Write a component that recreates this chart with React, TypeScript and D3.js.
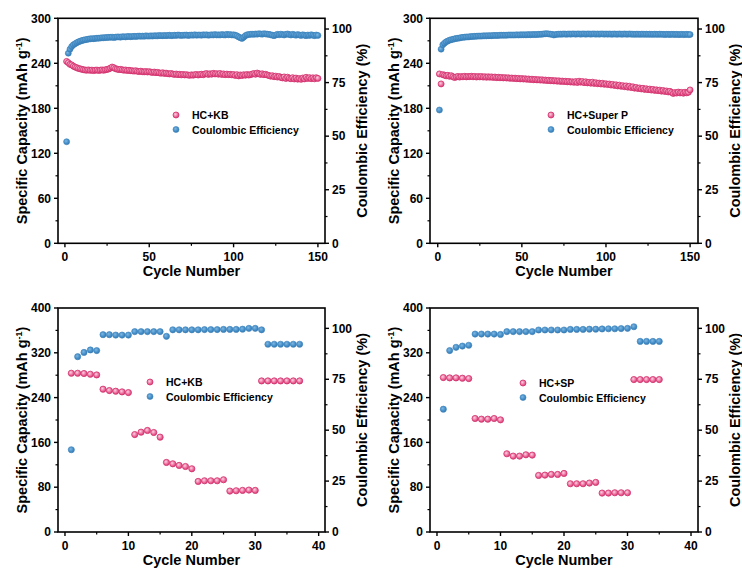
import React from 'react';
import * as d3 from 'd3';

// ---- long cycling, 150 cycles ----
const kbCapacity = [
  242.5, 240.8, 238.6, 237.9, 236.2, 235.0, 234.1, 233.2, 232.6, 232.0,
  231.5, 231.0, 230.8, 231.2, 230.6, 230.9, 230.3, 230.8, 231.0, 230.5,
  230.9, 231.2, 230.7, 231.4, 231.8, 232.5, 233.6, 235.0, 234.1, 232.8,
  232.2, 231.6, 231.9, 231.3, 230.8, 231.1, 230.4, 230.7, 230.2, 230.0,
  229.6, 230.1, 229.3, 229.0, 229.5, 228.8, 228.6, 229.0, 228.4, 228.9,
  228.2, 227.8, 228.3, 227.5, 227.9, 227.2, 226.8, 227.4, 226.5, 226.9,
  226.2, 225.8, 226.4, 225.6, 225.2, 225.7, 224.9, 225.3, 224.6, 225.1,
  224.5, 224.9, 224.3, 224.0, 224.6, 224.2, 224.8, 225.1, 224.4, 225.0,
  225.4, 224.7, 225.8, 226.3, 225.2, 226.0, 225.5, 226.6, 225.8, 226.2,
  225.5, 226.4, 225.1, 225.9, 224.8, 225.6, 224.9, 225.3, 224.6, 225.0,
  223.8, 224.9, 223.2, 224.5, 223.7, 224.8, 224.1, 225.0, 224.3, 224.9,
  225.6, 226.3, 225.4, 227.0, 226.1, 225.2, 226.0, 224.8, 225.3, 224.4,
  223.6, 222.8, 223.5, 222.1, 222.9, 221.6, 222.4, 221.2, 220.5, 221.8,
  219.8, 221.5, 220.2, 219.4, 220.8, 219.1, 220.3, 218.9, 219.6, 218.6,
  220.4, 219.2, 221.3, 219.8, 220.9, 219.5, 220.6, 219.3, 220.8, 219.9,
];
const kbEfficiency = [
  47.4, 88.7, 90.6, 91.8, 92.6, 93.1, 93.6, 94.0, 94.3, 94.6,
  94.8, 95.0, 95.1, 95.3, 95.4, 95.5, 95.5, 95.6, 95.7, 95.7,
  95.8, 95.9, 95.9, 96.0, 96.0, 96.1, 96.1, 96.2, 96.0, 96.2,
  96.3, 96.3, 96.2, 96.4, 96.4, 96.3, 96.5, 96.5, 96.4, 96.5,
  96.6, 96.5, 96.6, 96.7, 96.6, 96.7, 96.6, 96.8, 96.7, 96.7,
  96.8, 96.7, 96.9, 96.8, 96.8, 97.0, 96.9, 96.9, 97.0, 96.9,
  97.0, 97.1, 96.9, 97.0, 97.1, 97.0, 97.2, 97.1, 97.0, 97.1,
  97.1, 97.2, 97.0, 97.1, 97.2, 97.1, 97.3, 97.1, 97.2, 97.2,
  97.1, 97.3, 97.2, 97.3, 97.1, 97.2, 97.3, 97.2, 97.4, 97.2,
  97.3, 97.2, 97.4, 97.3, 97.2, 97.5, 97.3, 97.4, 97.2, 97.3,
  97.1, 96.8, 96.3, 95.9, 95.6, 96.2, 96.9, 97.3, 97.4, 97.5,
  97.6, 97.5, 97.7, 97.6, 97.8, 97.7, 97.6, 97.8, 97.7, 97.6,
  97.5, 97.3, 97.1, 96.9, 97.2, 97.5, 97.3, 97.6, 97.4, 97.2,
  97.5, 97.7, 97.4, 97.2, 97.5, 97.3, 97.1, 97.4, 97.2, 97.0,
  97.3, 97.1, 96.9, 97.2, 97.0, 97.3, 97.1, 96.9, 97.2, 97.0,
];
const spCapacity = [
  225.8, 212.5, 224.9, 224.1, 223.3, 224.0, 222.6, 223.5, 222.1, 221.0,
  221.8, 222.5, 221.6, 222.3, 222.0, 222.6, 221.9, 222.4, 222.2, 222.7,
  222.0, 222.5, 221.7, 222.3, 221.9, 222.4, 221.6, 222.1, 221.4, 222.0,
  221.5, 221.9, 221.2, 221.7, 220.9, 221.4, 220.7, 221.1, 220.5, 220.9,
  220.3, 220.7, 220.0, 220.4, 219.8, 220.2, 219.5, 219.9, 219.2, 219.6,
  219.0, 219.4, 218.7, 219.1, 218.4, 218.8, 218.1, 218.5, 217.9, 218.2,
  217.6, 218.0, 217.3, 217.7, 217.0, 217.4, 216.8, 217.1, 216.5, 216.9,
  216.2, 216.6, 215.9, 216.3, 215.7, 216.0, 215.3, 215.8, 215.0, 215.4,
  214.7, 215.6, 214.4, 216.1, 214.9, 215.7, 214.2, 215.3, 213.9, 214.6,
  213.5, 214.8, 213.2, 214.1, 212.8, 213.6, 212.4, 213.3, 212.0, 212.7,
  211.6, 212.4, 211.0, 211.9, 210.5, 211.3, 209.8, 210.9, 209.3, 210.2,
  208.8, 209.9, 208.2, 209.4, 207.6, 208.6, 206.9, 207.8, 206.3, 207.1,
  205.8, 206.7, 205.2, 206.1, 204.8, 205.6, 204.3, 205.2, 203.9, 204.6,
  203.5, 204.2, 202.9, 203.7, 202.4, 203.1, 201.8, 202.6, 201.2, 199.8,
  201.0, 200.3, 201.6, 200.5, 201.2, 200.1, 201.4, 200.6, 201.3, 204.5,
];
const spEfficiency = [
  62.2, 90.6, 92.6, 93.4, 94.0, 94.4, 94.8, 95.0, 95.2, 95.4,
  95.6, 95.7, 95.8, 96.0, 96.1, 96.2, 96.3, 96.3, 96.4, 96.5,
  96.5, 96.6, 96.6, 96.7, 96.7, 96.7, 96.8, 96.8, 96.8, 96.9,
  96.9, 96.9, 97.0, 97.0, 97.0, 97.0, 97.1, 97.1, 97.1, 97.1,
  97.1, 97.2, 97.2, 97.2, 97.2, 97.2, 97.3, 97.2, 97.3, 97.3,
  97.3, 97.3, 97.3, 97.4, 97.3, 97.4, 97.4, 97.4, 97.4, 97.5,
  97.5, 97.6, 97.7, 97.8, 97.8, 97.7, 97.6, 97.5, 97.2, 97.4,
  97.5, 97.6, 97.6, 97.6, 97.7, 97.6, 97.6, 97.7, 97.6, 97.7,
  97.7, 97.6, 97.7, 97.7, 97.6, 97.7, 97.7, 97.6, 97.7, 97.7,
  97.6, 97.7, 97.7, 97.6, 97.7, 97.6, 97.7, 97.7, 97.6, 97.7,
  97.6, 97.7, 97.6, 97.6, 97.7, 97.6, 97.6, 97.7, 97.6, 97.6,
  97.7, 97.6, 97.6, 97.7, 97.6, 97.6, 97.5, 97.6, 97.6, 97.5,
  97.6, 97.6, 97.5, 97.6, 97.5, 97.6, 97.5, 97.5, 97.6, 97.5,
  97.5, 97.6, 97.5, 97.5, 97.4, 97.5, 97.5, 97.4, 97.5, 97.5,
  97.4, 97.5, 97.4, 97.4, 97.5, 97.4, 97.4, 97.5, 97.4, 97.4,
];

// ---- rate tests ----
const kbRateCapacity = [
  283.5, 283.5, 283.0, 281.7, 280.5,
  255.0, 252.6, 251.4, 250.2, 249.0,
  174.0, 178.3, 181.3, 177.7, 169.4,
  124.2, 121.8, 118.9, 117.0, 112.9,
  90.3, 91.5, 91.5, 91.5, 93.3,
  73.1, 73.7, 74.3, 74.9, 74.3,
  269.8, 269.8, 269.8, 269.8, 269.8, 269.8, 269.8,
];
const kbRateEfficiency = [
  40.4, 86.1, 88.2, 89.4, 89.1,
  96.9, 96.9, 96.7, 96.7, 96.7,
  98.4, 98.4, 98.4, 98.4, 98.4,
  96.1, 99.3, 99.3, 99.3, 99.3,
  99.3, 99.4, 99.4, 99.4, 99.5,
  99.5, 99.5, 99.6, 100.0, 100.0,
  99.3, 92.2, 92.2, 92.2, 92.2, 92.2, 92.2,
];
const spRateCapacity = [
  275.8, 275.2, 275.2, 274.6, 274.0,
  202.7, 201.5, 201.5, 202.7, 200.3,
  139.7, 135.5, 135.5, 137.9, 137.3,
  101.0, 101.6, 102.8, 102.8, 104.6,
  86.2, 86.2, 86.2, 87.4, 88.6,
  69.5, 69.5, 70.1, 70.1, 70.1,
  272.2, 272.2, 272.2, 272.2, 272.2,
];
const spRateEfficiency = [
  60.3, 89.1, 90.7, 91.3, 91.7,
  97.2, 97.2, 97.2, 97.2, 97.0,
  98.4, 98.4, 98.4, 98.4, 98.4,
  99.2, 99.2, 99.2, 99.2, 99.2,
  99.5, 99.5, 99.5, 99.6, 99.6,
  99.7, 99.8, 99.8, 99.9, 100.0,
  100.8, 93.6, 93.6, 93.6, 93.6,
];

const longXTicks = [0, 50, 100, 150];
const longXMinor = [25, 75, 125];
const longYTicks = [0, 60, 120, 180, 240, 300];
const rateXTicks = [0, 10, 20, 30, 40];
const rateXMinor = [5, 15, 25, 35];
const rateYTicks = [0, 80, 160, 240, 320, 400];
const ceTicks = [0, 25, 50, 75, 100];

const FONT = 'Liberation Sans, Arial, sans-serif';

type PanelProps = {
  x0: number; x1: number; y0: number; y1: number;
  xDomain: [number, number]; yMax: number; ceMax: number;
  xTicks: number[]; xMinor: number[]; yTicks: number[];
  capacity: number[]; efficiency: number[];
  label: string; legendX: number; legendY: number; r: number;
};

const Marker = ({ cx, cy, r, kind }: { cx: number; cy: number; r: number; kind: string }) =>
  kind === 'pink'
    ? <circle cx={cx} cy={cy} r={r} fill="url(#pinkBall)" stroke="#d2336f" strokeWidth={0.8} />
    : <circle cx={cx} cy={cy} r={r} fill="url(#blueBall)" stroke="#3a82bb" strokeWidth={0.6} />;

const Panel = (p: PanelProps) => {
  const x = d3.scaleLinear().domain(p.xDomain).range([p.x0, p.x1]);
  const y = d3.scaleLinear().domain([0, p.yMax]).range([p.y1, p.y0]);
  const yr = d3.scaleLinear().domain([0, p.ceMax]).range([p.y1, p.y0]);
  const midY = (p.y0 + p.y1) / 2;
  const midX = (p.x0 + p.x1) / 2;
  const yMinor = p.yTicks.slice(1).map((t, i) => (t + p.yTicks[i]) / 2);
  const ceMinor = [12.5, 37.5, 62.5, 87.5];

  return (
    <g fontFamily={FONT} fontWeight="bold">
      {/* data */}
      {p.efficiency.map((v, i) => (
        <Marker key={'e' + i} cx={x(i + 1)} cy={yr(v)} r={p.r} kind="blue" />
      ))}
      {p.capacity.map((v, i) => (
        <Marker key={'c' + i} cx={x(i + 1)} cy={y(v)} r={p.r} kind="pink" />
      ))}

      {/* frame */}
      <rect x={p.x0} y={p.y0} width={p.x1 - p.x0} height={p.y1 - p.y0}
        fill="none" stroke="#000" strokeWidth={1.6} />

      {/* bottom axis */}
      {p.xTicks.map(t => (
        <g key={'xt' + t}>
          <line x1={x(t)} x2={x(t)} y1={p.y1} y2={p.y1 + 4} stroke="#000" strokeWidth={1.4} />
          <text x={x(t)} y={p.y1 + 18} textAnchor="middle" fontSize={12}>{t}</text>
        </g>
      ))}
      {p.xMinor.map(t => (
        <line key={'xm' + t} x1={x(t)} x2={x(t)} y1={p.y1} y2={p.y1 + 2.5} stroke="#000" strokeWidth={1.2} />
      ))}
      <text x={midX} y={p.y1 + 33} textAnchor="middle" fontSize={14.5}>Cycle Number</text>

      {/* left axis */}
      {p.yTicks.map(t => (
        <g key={'yt' + t}>
          <line x1={p.x0 - 4} x2={p.x0} y1={y(t)} y2={y(t)} stroke="#000" strokeWidth={1.4} />
          <text x={p.x0 - 7} y={y(t) + 4.2} textAnchor="end" fontSize={12}>{t}</text>
        </g>
      ))}
      {yMinor.map(t => (
        <line key={'ym' + t} x1={p.x0 - 2.5} x2={p.x0} y1={y(t)} y2={y(t)} stroke="#000" strokeWidth={1.2} />
      ))}
      <text transform={`translate(${p.x0 - 31},${midY}) rotate(-90)`} textAnchor="middle" fontSize={14.5}>
        Specific Capacity (mAh g<tspan dy={-5} fontSize={9}>-1</tspan><tspan dy={5}>)</tspan>
      </text>

      {/* right axis */}
      {ceTicks.map(t => (
        <g key={'rt' + t}>
          <line x1={p.x1} x2={p.x1 + 4} y1={yr(t)} y2={yr(t)} stroke="#000" strokeWidth={1.4} />
          <text x={p.x1 + 7} y={yr(t) + 4.2} textAnchor="start" fontSize={12}>{t}</text>
        </g>
      ))}
      {ceMinor.map(t => (
        <line key={'rm' + t} x1={p.x1} x2={p.x1 + 2.5} y1={yr(t)} y2={yr(t)} stroke="#000" strokeWidth={1.2} />
      ))}
      <text transform={`translate(${p.x1 + 42},${midY}) rotate(-90)`} textAnchor="middle" fontSize={14.5}>
        Coulombic Efficiency (%)
      </text>

      {/* legend */}
      <Marker cx={p.legendX} cy={p.legendY} r={3} kind="pink" />
      <text x={p.legendX + 16} y={p.legendY + 4} fontSize={10.5}>{p.label}</text>
      <Marker cx={p.legendX} cy={p.legendY + 14.5} r={3} kind="blue" />
      <text x={p.legendX + 16} y={p.legendY + 18.5} fontSize={10.5}>Coulombic Efficiency</text>
    </g>
  );
};

export default function App() {
  return (
    <svg width={742} height={568} style={{ position: 'absolute', left: 0, top: 0, background: '#fff' }}>
      <defs>
        <radialGradient id="pinkBall" cx="40%" cy="38%" r="65%">
          <stop offset="0%" stopColor="#fbd3e2" />
          <stop offset="55%" stopColor="#ee74a2" />
          <stop offset="100%" stopColor="#d8336f" />
        </radialGradient>
        <radialGradient id="blueBall" cx="40%" cy="38%" r="65%">
          <stop offset="0%" stopColor="#7fb6e0" />
          <stop offset="60%" stopColor="#4690ca" />
          <stop offset="100%" stopColor="#3578b0" />
        </radialGradient>
      </defs>
      <rect width={742} height={568} fill="#fff" />
      <Panel x0={58} x1={325} y0={18.3} y1={243.3} xDomain={[-4.1, 154.2]} yMax={300} ceMax={105}
        xTicks={longXTicks} xMinor={longXMinor} yTicks={longYTicks}
        capacity={kbCapacity} efficiency={kbEfficiency} label="HC+KB" legendX={176} legendY={115} r={3} />
      <Panel x0={430} x1={698} y0={18.3} y1={243.3} xDomain={[-4.6, 154.7]} yMax={300} ceMax={105}
        xTicks={longXTicks} xMinor={longXMinor} yTicks={longYTicks}
        capacity={spCapacity} efficiency={spEfficiency} label="HC+Super P" legendX={551} legendY={115} r={3} />
      <Panel x0={58} x1={325} y0={308} y1={532} xDomain={[-1.1, 41]} yMax={400} ceMax={110}
        xTicks={rateXTicks} xMinor={rateXMinor} yTicks={rateYTicks}
        capacity={kbRateCapacity} efficiency={kbRateEfficiency} label="HC+KB" legendX={150} legendY={382} r={3.1} />
      <Panel x0={430} x1={698} y0={308} y1={532} xDomain={[-1.1, 41.1]} yMax={400} ceMax={110}
        xTicks={rateXTicks} xMinor={rateXMinor} yTicks={rateYTicks}
        capacity={spRateCapacity} efficiency={spRateEfficiency} label="HC+SP" legendX={523} legendY={383} r={3.1} />
    </svg>
  );
}
